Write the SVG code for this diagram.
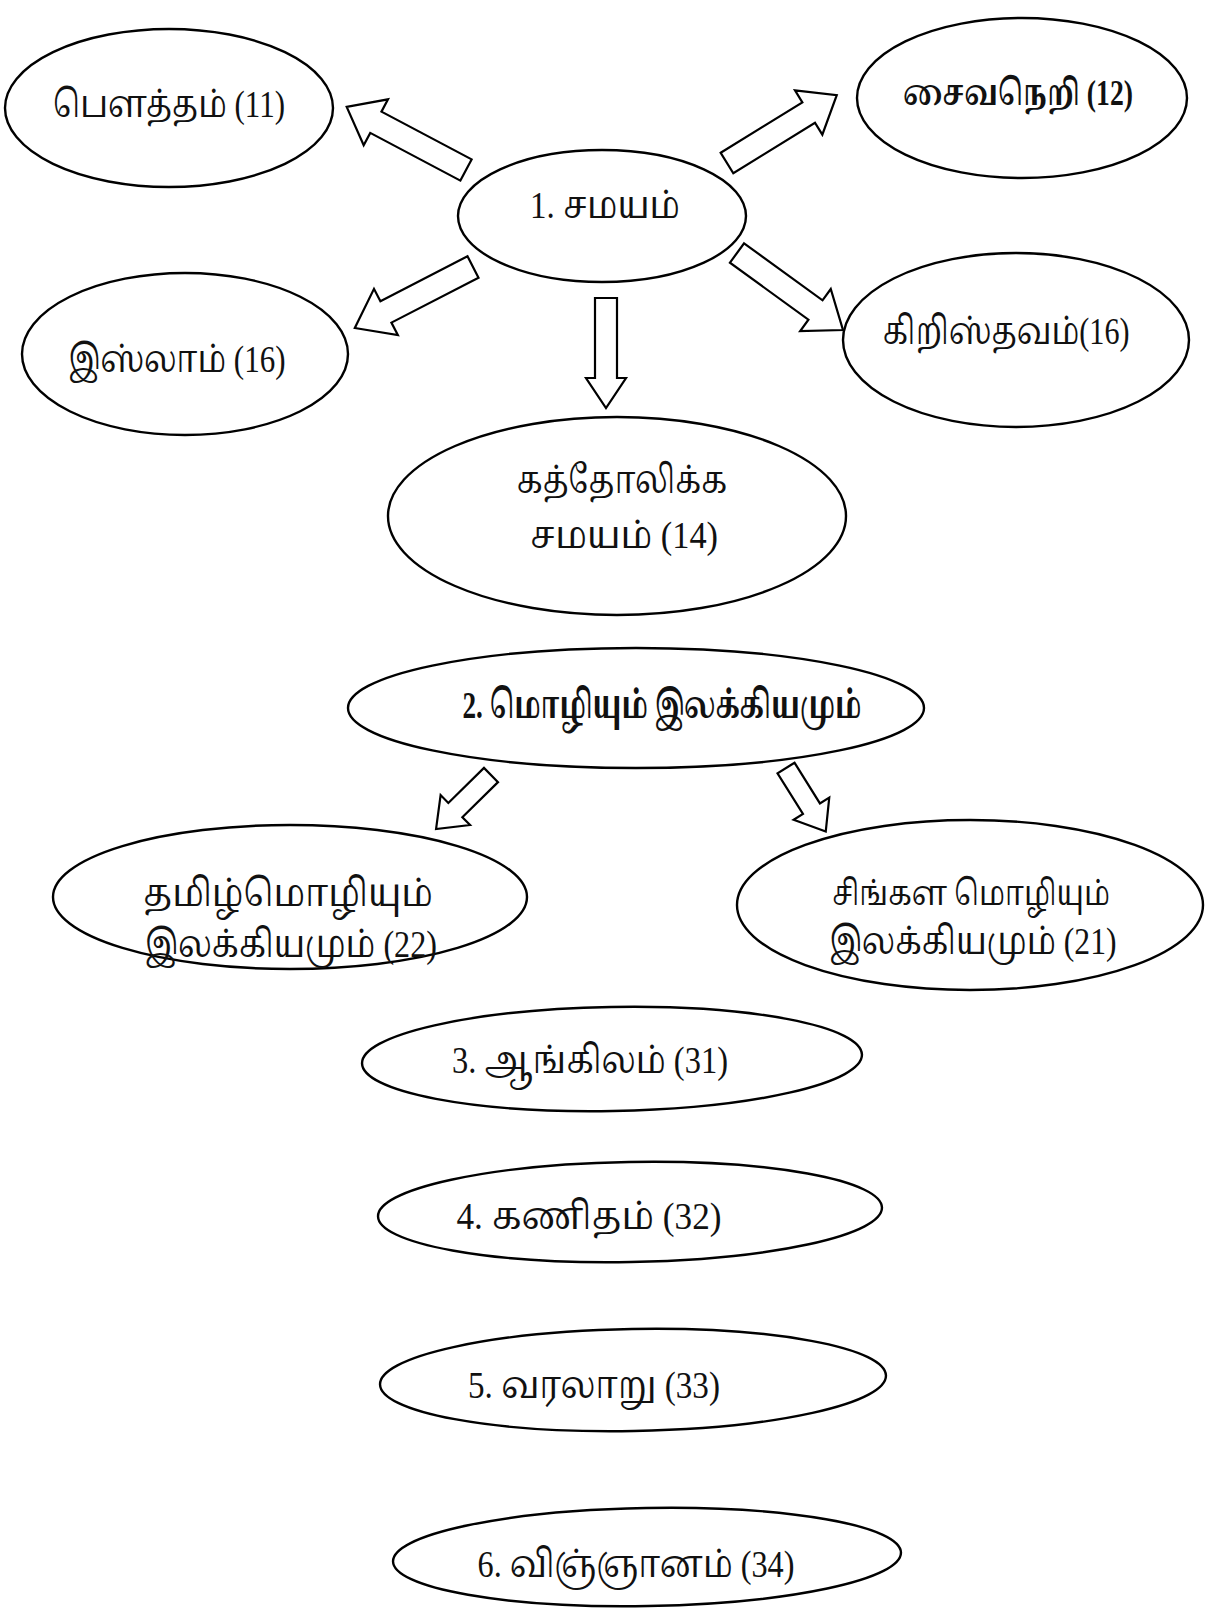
<svg xmlns="http://www.w3.org/2000/svg" width="1213" height="1608" viewBox="0 0 1213 1608">
<style>
.n{fill:#fff;stroke:#000;stroke-width:2.4}
.a{fill:#fff;stroke:#000;stroke-width:2.2;stroke-linejoin:miter}
text{font-family:"Liberation Serif","Noto Serif Tamil","Noto Sans Tamil","Lohit Tamil","Noto Sans",serif;font-size:38px;fill:#111;text-anchor:middle}
.b{font-weight:bold}
.s{font-size:35px}
</style>
<rect width="1213" height="1608" fill="#fff"/>
<g id="connectors">
<polygon class="a" transform="translate(466,170) rotate(207.9)" points="0,-12 102,-12 102,-26 135,0 102,26 102,12 0,12"/>
<polygon class="a" transform="translate(727,163) rotate(-31.7)" points="0,-12 96,-12 96,-26 129,0 96,26 96,12 0,12"/>
<polygon class="a" transform="translate(473,267) rotate(152.7)" points="0,-12 98,-12 98,-26 133,0 98,26 98,12 0,12"/>
<polygon class="a" transform="translate(606,298) rotate(90)" points="0,-11 80,-11 80,-20 110,0 80,20 80,11 0,11"/>
<polygon class="a" transform="translate(737,253) rotate(36)" points="0,-12 97,-12 97,-26 131,0 97,26 97,12 0,12"/>
<polygon class="a" transform="translate(491,775) rotate(135.5)" points="0,-10 50,-10 50,-21 77,0 50,21 50,10 0,10"/>
<polygon class="a" transform="translate(786,768) rotate(58)" points="0,-10 48,-10 48,-21 75,0 48,21 48,10 0,10"/>
</g>
<g id="n-bouddham"><ellipse class="n" cx="169" cy="108" rx="164" ry="79"/><text x="169" y="117" textLength="232" lengthAdjust="spacingAndGlyphs">பௌத்தம் (11)</text></g>
<g id="n-saivaneri"><ellipse class="n" cx="1022" cy="98" rx="165" ry="80"/><text class="b s" x="1018" y="105" textLength="230" lengthAdjust="spacingAndGlyphs">சைவநெறி (12)</text></g>
<g id="n-samayam"><ellipse class="n" cx="602" cy="216" rx="144" ry="66"/><text x="605" y="218" textLength="150" lengthAdjust="spacingAndGlyphs">1. சமயம்</text></g>
<g id="n-islam"><ellipse class="n" cx="185" cy="354" rx="163" ry="81"/><text x="177" y="372" textLength="217" lengthAdjust="spacingAndGlyphs">இஸ்லாம் (16)</text></g>
<g id="n-christ"><ellipse class="n" cx="1016" cy="340" rx="173" ry="87"/><text x="1006" y="344" textLength="247" lengthAdjust="spacingAndGlyphs">கிறிஸ்தவம்(16)</text></g>
<g id="n-catholic"><ellipse class="n" cx="617" cy="516" rx="229" ry="99"/><text x="622" y="493" textLength="211" lengthAdjust="spacingAndGlyphs">கத்தோலிக்க</text><text x="624" y="548" textLength="188" lengthAdjust="spacingAndGlyphs">சமயம் (14)</text></g>
<g id="n-mozhi"><ellipse class="n" cx="636" cy="708" rx="288" ry="60"/><text class="b" x="662" y="718" textLength="399" lengthAdjust="spacingAndGlyphs">2. மொழியும் இலக்கியமும்</text></g>
<g id="n-tamil"><ellipse class="n" cx="290" cy="897" rx="237" ry="72"/><text x="288" y="906" textLength="290" lengthAdjust="spacingAndGlyphs">தமிழ்மொழியும்</text><text x="291" y="957" textLength="292" lengthAdjust="spacingAndGlyphs">இலக்கியமும் (22)</text></g>
<g id="n-sinhala"><ellipse class="n" cx="970" cy="905" rx="233" ry="85"/><text class="s" x="971" y="905" textLength="278" lengthAdjust="spacingAndGlyphs">சிங்கள மொழியும்</text><text x="973" y="954" textLength="287" lengthAdjust="spacingAndGlyphs">இலக்கியமும் (21)</text></g>
<g id="n-english"><ellipse class="n" cx="612" cy="1059" rx="250" ry="52" transform="rotate(-1 612 1059)"/><text x="590" y="1073" textLength="276" lengthAdjust="spacingAndGlyphs">3. ஆங்கிலம் (31)</text></g>
<g id="n-maths"><ellipse class="n" cx="630" cy="1212" rx="252" ry="50" transform="rotate(-1 630 1212)"/><text x="589" y="1229" textLength="265" lengthAdjust="spacingAndGlyphs">4. கணிதம் (32)</text></g>
<g id="n-history"><ellipse class="n" cx="633" cy="1380" rx="253" ry="51" transform="rotate(-1 633 1380)"/><text x="594" y="1398" textLength="252" lengthAdjust="spacingAndGlyphs">5. வரலாறு (33)</text></g>
<g id="n-science"><ellipse class="n" cx="647" cy="1557" rx="254" ry="49" transform="rotate(-1 647 1557)"/><text x="636" y="1577" textLength="317" lengthAdjust="spacingAndGlyphs">6. விஞ்ஞானம் (34)</text></g>
</svg>
